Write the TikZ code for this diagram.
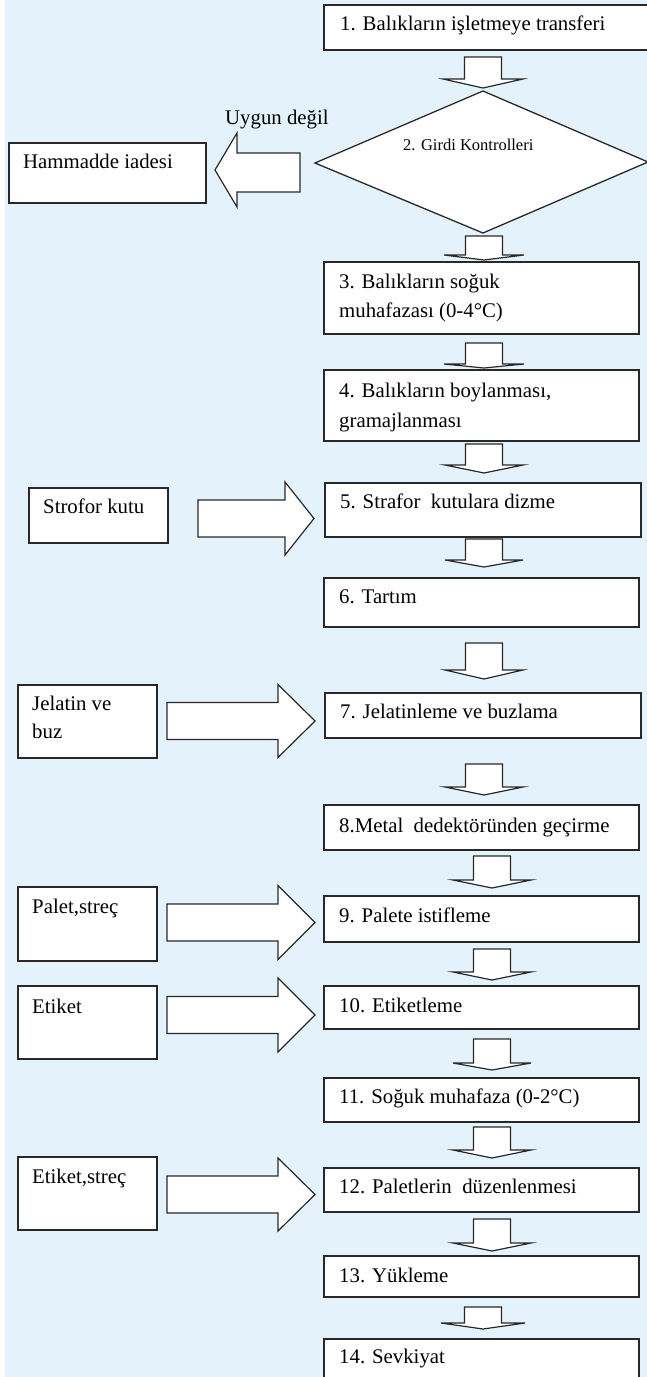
\documentclass[tikz,border=0pt]{standalone}
\usepackage{fontspec}
\setmainfont{Liberation Serif}
\definecolor{bgblue}{RGB}{228,243,251}
\definecolor{ln}{RGB}{40,40,40}
\newcommand\blkdn[5]{% cx, top, shoulder, tip, head half width
  \draw[blk] (#1-18.5,#2) -- (#1+18.5,#2) -- (#1+18.5,#3) -- (#1+#5,#3) -- (#1,#4)
    -- (#1-#5,#3) -- (#1-18.5,#3) -- cycle;}
\newcommand\blkrt[6]{% x0, xhead, xtip, cy, shaft half, head half
  \draw[blk] (#1,#4-#5) -- (#2,#4-#5) -- (#2,#4-#6) -- (#3,#4) -- (#2,#4+#6)
    -- (#2,#4+#5) -- (#1,#4+#5) -- cycle;}
\begin{document}
\begin{tikzpicture}[x=1pt,y=-1pt,
  box/.style={draw=ln, line width=1.5pt, fill=white, inner sep=0pt, anchor=north west},
  blk/.style={draw=ln, line width=1.2pt, fill=white, line join=miter},
  txt/.style={anchor=base west, inner sep=0pt, text=black, font=\fontsize{20.8}{25}\selectfont},
  small/.style={anchor=base west, inner sep=0pt, text=black, font=\fontsize{16.5}{20}\selectfont}]
\useasboundingbox (0,0) rectangle (647,1377);
\clip (0,0) rectangle (647,1377);
\fill[bgblue] (5,0) rectangle (647,1377);

% right column boxes
\node[box, minimum width=337, minimum height=45] (b1) at (323,4) {};
\node[box, minimum width=315, minimum height=72] (b3) at (323,261) {};
\node[box, minimum width=315, minimum height=71] (b4) at (323,369) {};
\node[box, minimum width=316, minimum height=54] (b5) at (324,482) {};
\node[box, minimum width=315, minimum height=49] (b6) at (323,577) {};
\node[box, minimum width=316, minimum height=45] (b7) at (324,692) {};
\node[box, minimum width=315, minimum height=45] (b8) at (323,804) {};
\node[box, minimum width=315, minimum height=46] (b9) at (323,895) {};
\node[box, minimum width=315, minimum height=43] (b10) at (323,985) {};
\node[box, minimum width=315, minimum height=44] (b11) at (323,1077) {};
\node[box, minimum width=315, minimum height=44] (b12) at (323,1167) {};
\node[box, minimum width=315, minimum height=41] (b13) at (323,1255) {};
\node[box, minimum width=315, minimum height=60] (b14) at (323,1338) {};

% left boxes
\node[box, minimum width=197, minimum height=60] (ham) at (8,142) {};
\node[box, minimum width=139, minimum height=55] (str) at (28,487) {};
\node[box, minimum width=139, minimum height=73] (jel) at (17,684) {};
\node[box, minimum width=139, minimum height=74] (pal) at (17,886) {};
\node[box, minimum width=139, minimum height=73] (eti) at (17,985) {};
\node[box, minimum width=139, minimum height=73] (ets) at (17,1156) {};

% decision diamond
\coordinate (dtop) at (483,91);
\coordinate (dright) at (648,162);
\coordinate (dbot) at (483,233);
\coordinate (dleft) at (315,163);
\draw[line width=1.3pt, draw=ln, fill=white] (dtop) -- (dright) -- (dbot) -- (dleft) -- cycle;

% down block arrows
\blkdn{483}{57}{79}{88}{40}
\blkdn{484}{236}{255}{260}{40}
\blkdn{484}{343}{364}{368}{40}
\blkdn{484}{444}{465}{473}{39}
\blkdn{484}{539}{560}{567}{39}
\blkdn{484}{643}{670}{679}{39}
\blkdn{484}{764}{787}{795}{39}
\blkdn{492}{856}{880}{888}{39}
\blkdn{492}{949}{972}{980}{39}
\blkdn{492}{1039}{1063}{1070}{39}
\blkdn{492}{1127}{1150}{1158}{39}
\blkdn{492}{1219}{1243}{1251}{39}
\blkdn{483}{1307}{1323}{1329}{42}

% horizontal block arrows
\draw[blk] (300,153) -- (237,153) -- (237,133) -- (215,170) -- (237,207) -- (237,192) -- (300,192) -- cycle;
\blkrt{198}{285}{314}{518.5}{18.5}{36.5}
\blkrt{167}{278}{315}{721}{18.5}{36.5}
\blkrt{167}{278}{315}{922.5}{18.5}{37}
\blkrt{167}{278}{315}{1015}{18.5}{37}
\blkrt{167}{278}{315}{1194.5}{18.5}{36.5}

% texts
\node[txt] (t1) at (340,30) {1. Balıkların işletmeye transferi};
\node[small] (t2) at (403,150) {2. Girdi Kontrolleri};
\node[txt] (uyg) at (225,124) {Uygun değil};
\node[txt] (hamt) at (23,168) {Hammadde iadesi};
\node[txt] (t3a) at (339,288) {3. Balıkların soğuk};
\node[txt] (t3b) at (339,317) {muhafazası (0-4°C)};
\node[txt] (t4a) at (339,397) {4. Balıkların boylanması,};
\node[txt] (t4b) at (339,427) {gramajlanması};
\node[txt] (t5) at (340,508) {5. Strafor~ kutulara dizme};
\node[txt] (strt) at (43,513) {Strofor kutu};
\node[txt] (t6) at (339,603) {6. Tartım};
\node[txt] (t7) at (340,718) {7. Jelatinleme ve buzlama};
\node[txt] (jela) at (32,710) {Jelatin ve};
\node[txt] (jelb) at (32,738) {buz};
\node[txt] (t8) at (339,832) {8.Metal~ dedektöründen geçirme};
\node[txt] (t9) at (339,922) {9. Palete istifleme};
\node[txt] (palt) at (32,913) {Palet,streç};
\node[txt] (t10) at (339,1012) {10. Etiketleme};
\node[txt] (etit) at (32,1013) {Etiket};
\node[txt] (t11) at (339,1103) {11. Soğuk muhafaza (0-2°C)};
\node[txt] (t12) at (339,1193) {12. Paletlerin~ düzenlenmesi};
\node[txt] (etst) at (32,1183) {Etiket,streç};
\node[txt] (t13) at (339,1282) {13. Yükleme};
\node[txt] (t14) at (339,1363) {14. Sevkiyat};
\end{tikzpicture}
\end{document}
